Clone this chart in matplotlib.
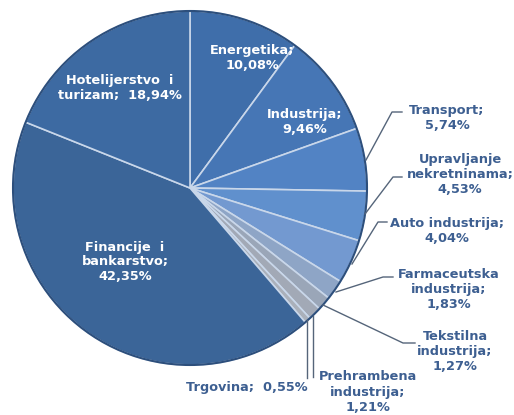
import matplotlib
matplotlib.use("Agg")
import matplotlib.pyplot as plt

# slice data, clockwise from the top
sectors = [
    "Energetika", "Industrija", "Transport", "Upravljanje nekretninama",
    "Auto industrija", "Farmaceutska industrija", "Tekstilna industrija",
    "Prehrambena industrija", "Trgovina", "Financije i bankarstvo",
    "Hotelijerstvo i turizam",
]
shares = [10.08, 9.46, 5.74, 4.53, 4.04, 1.83, 1.27, 1.21, 0.55, 42.35, 18.94]
colors = [
    "#3f6eaa", "#4676b5", "#5283c4", "#6090cd", "#7399d0", "#8ea5c6",
    "#9aa6b8", "#a2a9b6", "#aab0ba", "#3b6598", "#3d6aa2",
]

# label texts as shown on the chart
label_texts = [
    "Energetika;\n10,08%", "Industrija;\n9,46%", "Transport;\n5,74%",
    "Upravljanje\nnekretninama;\n4,53%", "Auto industrija;\n4,04%",
    "Farmaceutska\nindustrija;\n1,83%", "Tekstilna\nindustrija;\n1,27%",
    "Prehrambena\nindustrija;\n1,21%", "Trgovina;  0,55%",
    "Financije  i\nbankarstvo;\n42,35%", "Hotelijerstvo  i\nturizam;  18,94%",
]

W, H = 514, 415
fig = plt.figure(figsize=(W / 100, H / 100), dpi=100)
ax = fig.add_axes([0, 0, 1, 1])

cx, cy, r = 190, H - 188, 177
wedges, _ = ax.pie(
    shares, colors=colors, startangle=90, counterclock=False,
    center=(cx, cy), radius=r, frame=True,
    wedgeprops=dict(edgecolor="#c9d7ea", linewidth=1.2),
)
# outer rim shadow
circ = plt.Circle((cx, cy), r, fill=False, edgecolor="#2d4f7c", linewidth=1.5)
ax.add_patch(circ)
ax.set_xlim(0, W)
ax.set_ylim(0, H)
ax.set_aspect("equal")
ax.axis("off")

fs = 9.3
inside = {
    0: (252, 58), 1: (305, 122), 9: (125, 262), 10: (120, 88),
}
outside = {
    2: ((447, 118), [(402, 112), (392, 112), (366, 160)]),
    3: ((460, 175), [(402, 177), (393, 177), (365, 214)]),
    4: ((447, 231), [(387, 222), (378, 222), (352, 264)]),
    5: ((449, 290), [(393, 277), (383, 277), (336, 292)]),
    6: ((455, 352), [(415, 343), (403, 343), (323, 305)]),
    7: ((368, 392), [(313, 377), (313, 316)]),
    8: ((247, 388), [(307, 378), (307, 320)]),
}

for i, (px, py) in inside.items():
    ax.text(px, H - py, label_texts[i], ha="center", va="center",
            color="white", fontsize=fs, fontweight="bold", linespacing=1.2)

for i, ((px, py), pts) in outside.items():
    ax.text(px, H - py, label_texts[i], ha="center", va="center",
            color="#3d5f91", fontsize=fs, fontweight="bold", linespacing=1.2)
    xs = [p[0] for p in pts]
    ys = [H - p[1] for p in pts]
    ax.plot(xs, ys, color="#55657a", linewidth=1.0)

fig.savefig("out.png", dpi=100)
